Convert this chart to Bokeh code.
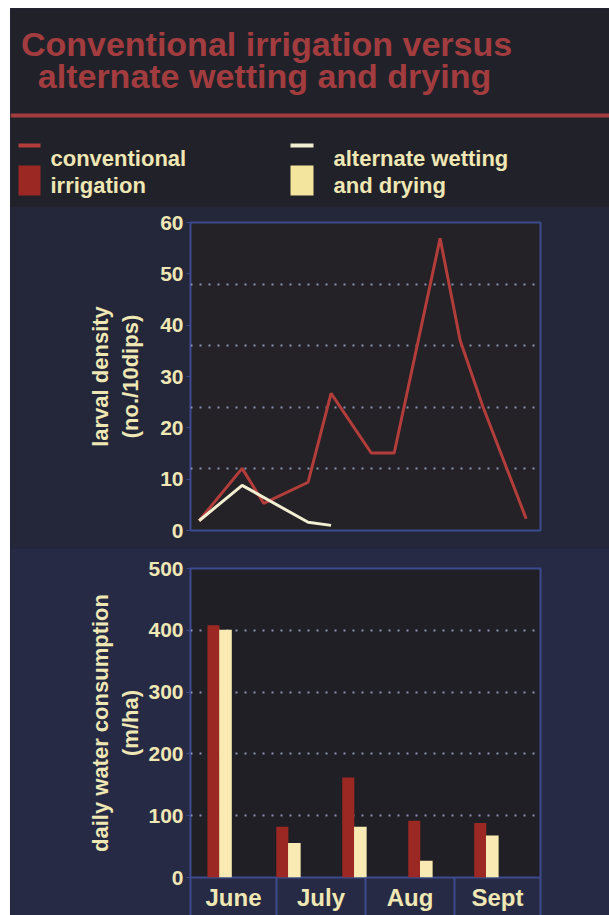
from bokeh.plotting import figure
from bokeh.layouts import column
from bokeh.models import Range1d, FixedTicker, ColumnDataSource
from bokeh.transform import dodge
from bokeh.core.properties import value
from bokeh.embed import file_html
from bokeh.resources import INLINE

# ---------------- data ----------------
# larval density (no./10 dips), x = days since 1 June
conv_days = [3, 18, 25.5, 41, 49, 63, 71, 87, 94, 102, 117]
conv_larvae = [1.9, 12.1, 5.3, 9.4, 26.7, 15.1, 15.1, 56.9, 37.0, 24.0, 2.3]
awd_days = [3, 18, 41, 49]
awd_larvae = [1.9, 8.8, 1.6, 1.0]

# daily water consumption (m/ha)
sample_days = [10, 34, 57, 80, 103]
conv_water = [408, 82, 162, 92, 88]
awd_water = [401, 56, 82, 27, 68]

months = ["June", "July", "Aug", "Sept"]
month_starts = [0, 30, 61, 92, 122]
larval_ticks = [0, 10, 20, 30, 40, 50, 60]
larval_grid = [12, 24, 36, 48]
water_ticks = [0, 100, 200, 300, 400, 500]
water_grid = [100, 200, 300, 400]

title_lines = ["Conventional irrigation versus", "alternate wetting and drying"]

# ---------------- styles ----------------
FONT = "Liberation Sans"
BG_HEAD = "#212229"
BG_TOP = "#24263a"
BG_BOT = "#272a45"
FRAME_TOP = "#242226"
FRAME_BOT = "#201f25"
BLUE = "#3c4b8e"
CREAM = "#efe7b4"
TITLE_RED = "#a33c3f"
LINE_RED = "#b23d3b"
BAR_RED = "#9c2824"
BAR_YEL = "#f8eab2"
LINE_WHITE = "#f2eed2"
GRID = "#a3afd2"

W = 599

# ---------------- header ----------------
head = figure(width=W, height=199, x_range=Range1d(0, W), y_range=Range1d(199, 0),
              x_axis_location=None, y_axis_location=None, min_border=0,
              outline_line_color=None, background_fill_color=BG_HEAD,
              border_fill_color=BG_HEAD, toolbar_location=None, output_backend="svg")
head.frame_align = False
head.xgrid.visible = False
head.ygrid.visible = False

head.text(x=[256, 254], y=[35, 67], text=title_lines, text_font=value(FONT),
          text_font_style="bold", text_font_size="34px", text_color=TITLE_RED,
          text_align="center", text_baseline="middle")
head.segment(x0=[0], y0=[107], x1=[W], y1=[107], line_color=TITLE_RED, line_width=4)

# legend
head.segment(x0=[8], y0=[137], x1=[30], y1=[137], line_color=LINE_RED, line_width=4)
head.quad(left=[8], right=[30], top=[157], bottom=[187], fill_color=BAR_RED, line_color=None)
head.segment(x0=[280], y0=[137], x1=[303], y1=[137], line_color=LINE_WHITE, line_width=4)
head.quad(left=[280], right=[303], top=[157], bottom=[187], fill_color="#f3e49e", line_color=None)
head.text(x=[40, 40, 323, 323], y=[150, 177, 150, 177],
          text=["conventional", "irrigation", "alternate wetting", "and drying"],
          text_font=value(FONT), text_font_style="bold", text_font_size="22px",
          text_color=CREAM, text_align="left", text_baseline="middle")


def style_y(p, label, standoff):
    ax = p.yaxis[0]
    ax.axis_line_color = None
    ax.major_tick_out = 4
    ax.major_tick_in = 0
    ax.major_tick_line_color = BLUE
    ax.minor_tick_line_color = None
    ax.major_label_text_font = FONT
    ax.major_label_text_font_style = "bold"
    ax.major_label_text_font_size = "21px"
    ax.major_label_text_color = CREAM
    ax.major_label_standoff = 3
    ax.axis_label = label
    ax.axis_label_text_font = FONT
    ax.axis_label_text_font_style = "bold"
    ax.axis_label_text_font_size = "22px"
    ax.axis_label_text_color = CREAM
    ax.axis_label_standoff = standoff


def style_grid(g, ticks):
    g.ticker = FixedTicker(ticks=ticks)
    g.grid_line_color = GRID
    g.grid_line_dash = "2 7"
    g.grid_line_width = 2
    g.grid_line_alpha = 0.8


# ---------------- larval density ----------------
top = figure(width=W, height=341, x_range=Range1d(0, 122), y_range=Range1d(0, 60),
             x_axis_location=None, min_border_left=180, min_border_right=69,
             min_border_top=15, min_border_bottom=18,
             background_fill_color=FRAME_TOP, border_fill_color=BG_TOP,
             outline_line_color=BLUE, outline_line_width=2,
             toolbar_location=None, output_backend="svg")
top.yaxis.ticker = FixedTicker(ticks=larval_ticks)
style_y(top, "larval density\n(no./10dips)", 14)
top.xgrid.visible = False
style_grid(top.ygrid[0], larval_grid)

top.line(conv_days, conv_larvae, line_color=LINE_RED, line_width=3)
top.line(awd_days, awd_larvae, line_color=LINE_WHITE, line_width=3)

# ---------------- water consumption ----------------
month_centers = [(a + b) / 2 for a, b in zip(month_starts[:-1], month_starts[1:])]

bot = figure(width=W, height=367, x_range=Range1d(0, 122), y_range=Range1d(0, 500),
             min_border_left=180, min_border_right=69,
             min_border_top=20, min_border_bottom=38,
             background_fill_color=FRAME_BOT, border_fill_color=BG_BOT,
             outline_line_color=BLUE, outline_line_width=2,
             toolbar_location=None, output_backend="svg")
bot.yaxis.ticker = FixedTicker(ticks=water_ticks)
style_y(bot, "daily water consumption\n(m/ha)", 2)
bot.xgrid.visible = False
style_grid(bot.ygrid[0], water_grid)

xa = bot.xaxis[0]
xa.ticker = FixedTicker(ticks=month_centers, minor_ticks=month_starts)
xa.major_label_overrides = {c: m for c, m in zip(month_centers, months)}
xa.axis_line_color = None
xa.major_tick_out = 0
xa.major_tick_in = 0
xa.minor_tick_in = 0
xa.minor_tick_out = 38
xa.minor_tick_line_color = BLUE
xa.minor_tick_line_width = 2
xa.major_label_text_font = FONT
xa.major_label_text_font_style = "bold"
xa.major_label_text_font_size = "24px"
xa.major_label_text_color = CREAM
xa.major_label_standoff = -32

src = ColumnDataSource(dict(day=sample_days, conv=conv_water, awd=awd_water))
bot.vbar(x=dodge("day", -2.0, range=bot.x_range), top="conv", width=4.2, bottom=0,
         source=src, fill_color=BAR_RED, line_color=None)
bot.vbar(x=dodge("day", 2.2, range=bot.x_range), top="awd", width=4.4, bottom=0,
         source=src, fill_color=BAR_YEL, line_color=None)

layout = column(head, top, bot, spacing=0, margin=(8, 0, 0, 10),
                styles={"background-color": BG_TOP})
open("out.html", "w").write(file_html(layout, INLINE))
